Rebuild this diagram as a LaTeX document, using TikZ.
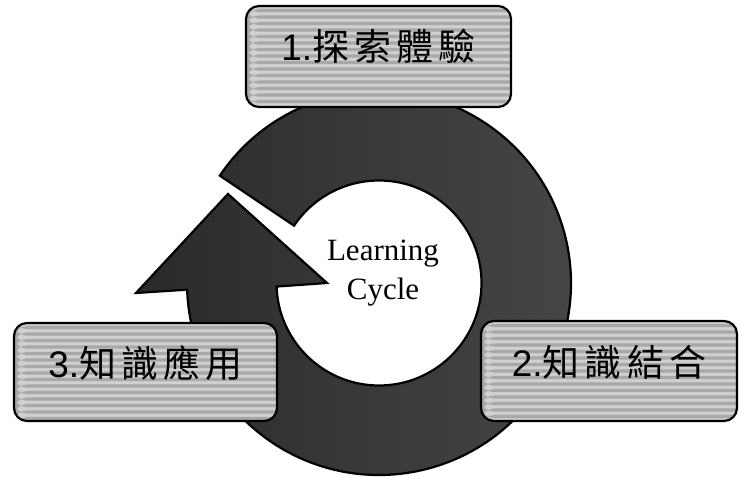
\documentclass[tikz,border=0pt]{standalone}
\usepackage{fontspec}
\usetikzlibrary{calc}
\newfontfamily\arialf{Liberation Sans}
\newfontfamily\timesf{Liberation Serif}
\newfontfamily\cjkf[LetterSpace=14]{Noto Sans CJK TC}
\definecolor{stripelight}{HTML}{D0D0D0}
\definecolor{stripedark}{HTML}{A8A8A8}
\definecolor{ringleft}{HTML}{2A2A2A}
\definecolor{ringright}{HTML}{474747}
\tikzset{
  stagebox/.style={draw=black, line width=2.2pt, rounded corners=13pt, inner sep=0pt,
    fill=stripelight,
    path picture={\foreach \k in {0,...,30}{\fill[stripedark] ([yshift=-\k*6.5pt-3pt]path picture bounding box.north west) rectangle ++(800pt,-3.2pt);}}},
  stagetext/.style={inner sep=0pt, font=\fontsize{37}{42}\selectfont},
  ring/.style={draw=black, line width=2.2pt, left color=ringleft, right color=ringright},
  centertext/.style={align=center, inner sep=0pt, font=\timesf\fontsize{31}{39}\selectfont}
}
\begin{document}
\begin{tikzpicture}[x=1pt,y=1pt]
\fill[white] (0,0) rectangle (740,477);
\useasboundingbox (0,0) rectangle (740,477);
\coordinate (C) at (379,194);
\coordinate (barbL) at (136,184);
\coordinate (tip) at (228,283);
\coordinate (barbR) at (327,194);
\path[ring] ($(C)+(146:192)$) arc[start angle=146, end angle=-178, radius=192]
  -- (barbL) -- (tip) -- (barbR)
  -- ($(C)+(182:102.5)$) arc[start angle=-178, end angle=146, radius=102.5] -- cycle;
\node[centertext] (lc) at (383,204) {Learning\\Cycle};
% boxes
\node[stagebox, minimum width=265pt, minimum height=101pt] (b1) at (378.5,420.5) {};
\node[stagetext] (t1) at ([yshift=10pt]b1.center) {{\arialf 1.}{\cjkf 探索體驗}};
\node[stagebox, minimum width=256pt, minimum height=100pt] (b2) at (609,106) {};
\node[stagetext] (t2) at ([yshift=9pt]b2.center) {{\arialf 2.}{\cjkf 知識結合}};
\node[stagebox, minimum width=263pt, minimum height=98pt] (b3) at (145.5,105) {};
\node[stagetext] (t3) at ([yshift=9pt]b3.center) {{\arialf 3.}{\cjkf 知識應用}};
\end{tikzpicture}
\end{document}
